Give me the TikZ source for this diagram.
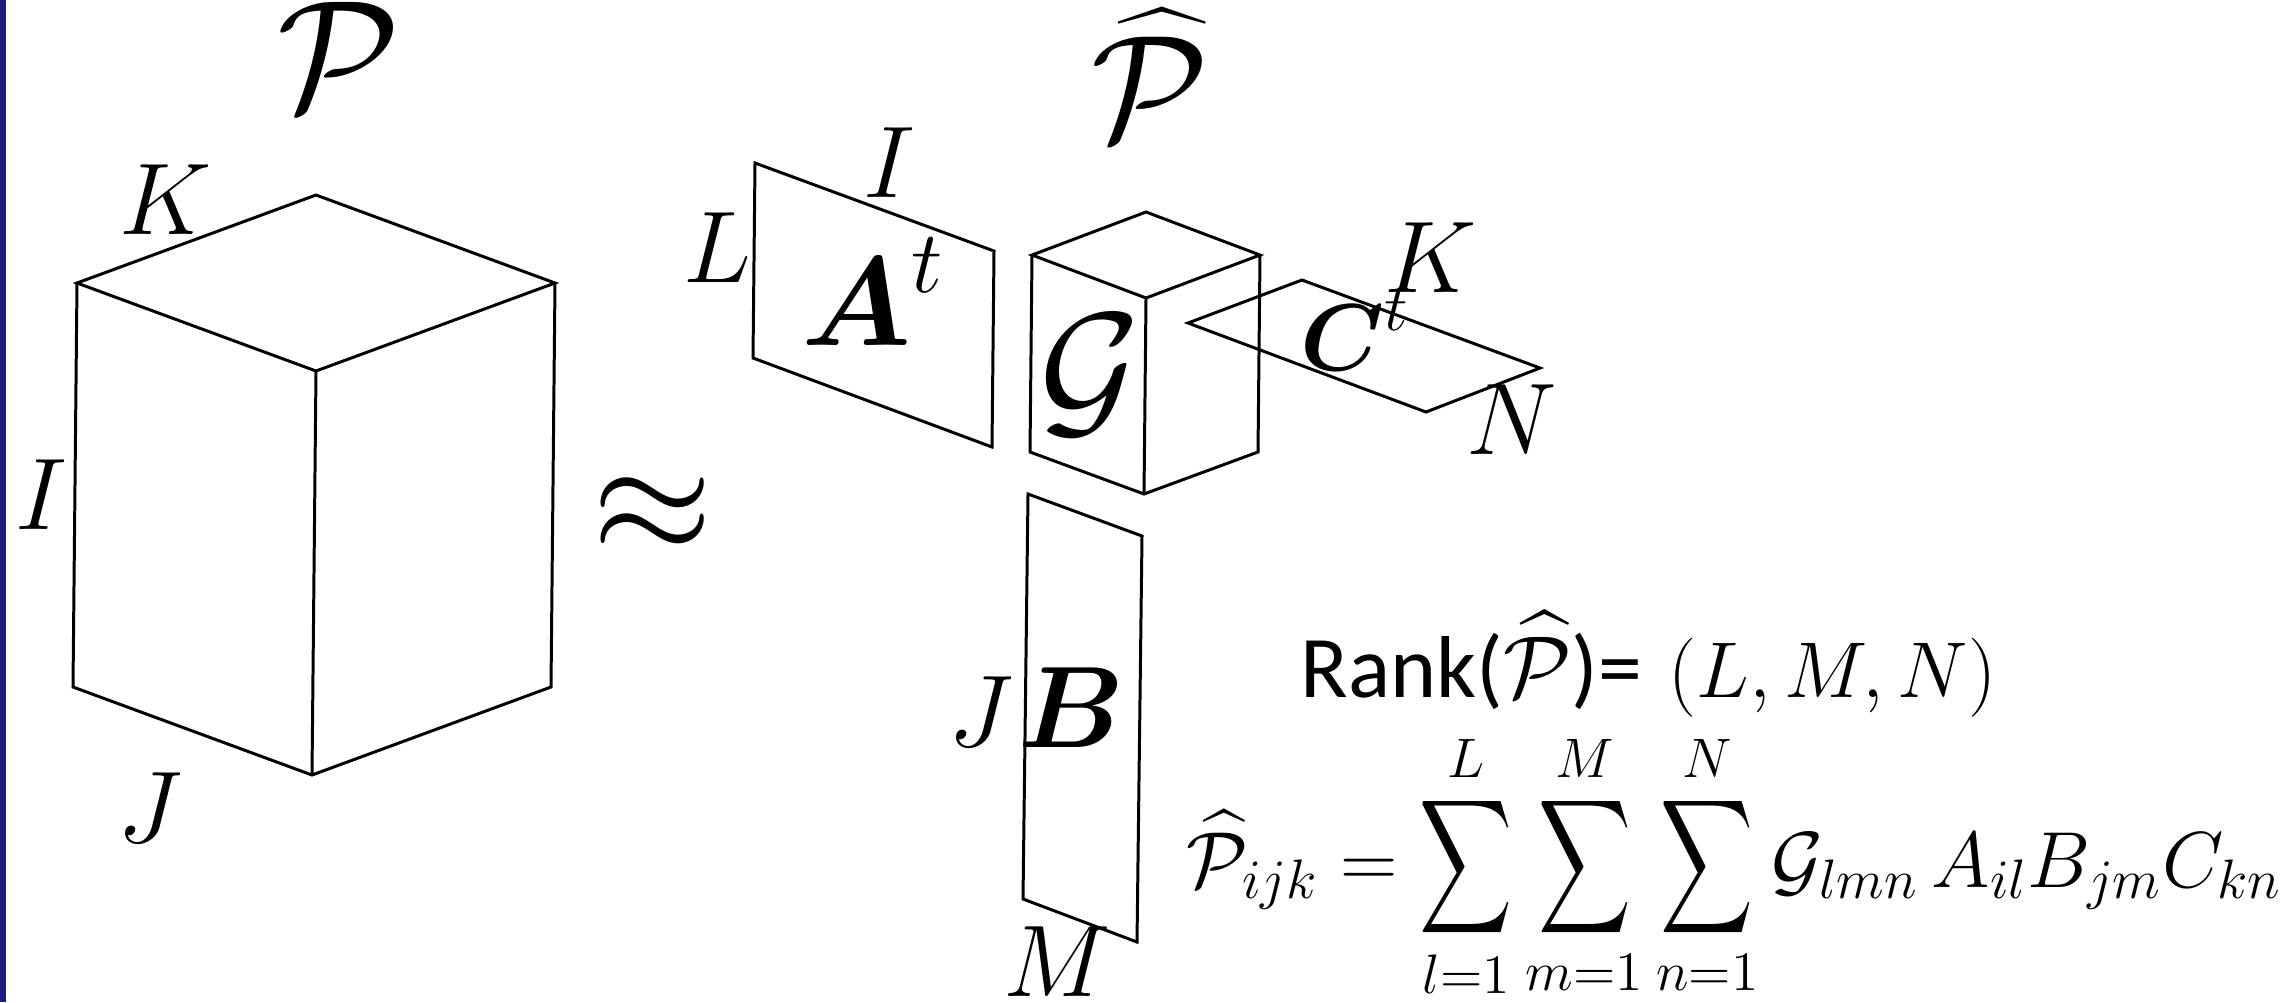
\RequirePackage{fix-cm}
\documentclass[tikz,border=0pt]{standalone}
\usepackage{amsmath}
\usepackage{graphicx}
\usepackage{fontspec}
\newfontfamily\calibri{Carlito}
\usepackage{xcolor}
\usepackage{tikz}
\usetikzlibrary{calc}
\definecolor{barblue}{RGB}{31,26,128}
% narrow, tall summation sign
\newcommand{\tsum}{\mathop{\vcenter{\hbox{\scalebox{0.86}[1.25]{$\displaystyle\sum$}}}}\limits}

\begin{document}
\begin{tikzpicture}[x=0.01cm,y=-0.01cm,
  slab/.style={line width=0.85pt},
  dim/.style={inner sep=0pt,font=\fontsize{29}{34}\selectfont},
  big/.style={inner sep=0pt,anchor=base,font=\fontsize{45}{52}\selectfont}]
  % 1 unit = 1px of the 2282x1002 frame, y grows downwards
  \useasboundingbox (0,0) rectangle (2282,1002);
  \fill[barblue] (0,0) rectangle (6,1002);   % slide edge
  % full tensor P (I x J x K)
  \draw[slab] (77,283) -- (316,195) -- (555,283) -- (316,371) -- cycle;
  \draw[slab] (77,283) -- (73,687) -- (312,775) -- (551,687) -- (555,283);
  \draw[slab] (316,371) -- (312,775);
  \node[big] (ptens) at (339,110) {$\mathcal{P}$};
  \node[dim] (pk) at (166,200) {$K$};
  \node[dim] (pi) at (42,495) {$I$};
  \node[dim] (pj) at (150,808) {$J$};
  \node[inner sep=0pt,font=\fontsize{44}{50}\selectfont] (approx) at (653,515) {$\approx$};
  % Tucker factors: A^t, core G, C^t, B
  \node[big,font=\fontsize{43}{50}\selectfont] (phat) at (1150,140) {$\widehat{\mathcal{P}}$};
  \draw[slab] (755,163) -- (994,251) -- (992,447) -- (753,358) -- cycle;
  \node[dim] (ai) at (890,163) {$I$};
  \node[dim] (al) at (717,248) {$L$};
  \node[inner sep=0pt,font=\fontsize{36}{42}\selectfont] (amat) at (873,292) {$\boldsymbol{A}^t$};
  \draw[slab] (1032,255) -- (1146,212) -- (1260,255) -- (1146,298) -- cycle;
  \draw[slab] (1032,255) -- (1030,452) -- (1144,494) -- (1258,452) -- (1260,255);
  \draw[slab] (1146,298) -- (1144,494);
  \node[inner sep=0pt,font=\fontsize{44}{50}\selectfont] (core) at (1090,375) {$\mathcal{G}$};
  \draw[slab] (1188,323) -- (1302,280) -- (1540,368) -- (1426,412) -- cycle;
  \node[inner sep=0pt,font=\fontsize{27}{32}\selectfont] (cmat) at (1355,330) {$\boldsymbol{C}^t$};
  \node[dim] (ck) at (1431,258) {$K$};
  \node[dim] (cn) at (1512,420) {$N$};
  \draw[slab] (1028,494) -- (1142,536) -- (1137,942) -- (1023,899) -- cycle;
  \node[dim] (bj) at (981,712) {$J$};
  \node[inner sep=0pt,font=\fontsize{33}{38}\selectfont] (bmat) at (1072,708) {$\boldsymbol{B}$};
  \node[dim] (bm) at (1057,962) {$M$};
  % rank and elementwise model
  \node[anchor=base west,inner sep=0pt,font=\fontsize{25}{30}\selectfont] (rank) at (1300,697)
    {{\calibri Rank(}$\widehat{\mathcal{P}}${\calibri )=} {\fontsize{22.5}{28}\selectfont$(L,M,N)$}};
  \node[anchor=base west,inner sep=0pt,font=\fontsize{22}{26}\selectfont] (model) at (1186,887)
    {\resizebox{10.95cm}{!}{$\displaystyle\widehat{\mathcal{P}}_{ijk}=\tsum_{l=1}^{L}\tsum_{m=1}^{M}\tsum_{n=1}^{N}\mathcal{G}_{lmn}\,A_{il}B_{jm}C_{kn}$}};
\end{tikzpicture}
\end{document}
